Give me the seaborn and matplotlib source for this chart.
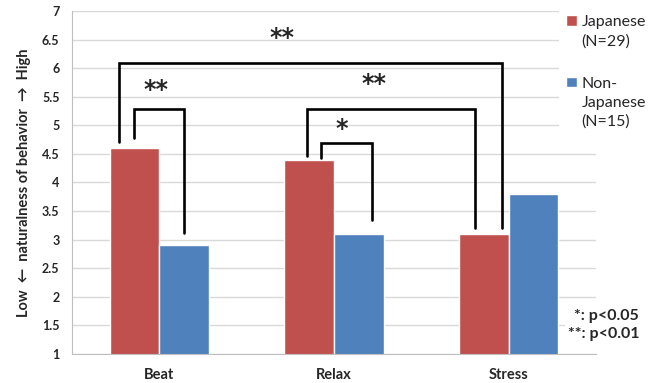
import pandas as pd
import seaborn as sns
import matplotlib.pyplot as plt
from matplotlib.patches import Patch

conditions = ["Beat", "Relax", "Stress"]
japanese = [4.6, 4.4, 3.1]
non_japanese = [2.9, 3.1, 3.8]
group_names = ["Japanese\n(N=29)", "Non-\nJapanese\n(N=15)"]
colors = ["#C0504D", "#4F81BD"]

# significance brackets: (left bar, right bar), bar = (condition, group, spot across bar)
pairs = [
    ((0, 0, 0.5), (0, 1, 0.5)),
    ((0, 0, 0.19), (2, 0, 0.86)),
    ((1, 0, 0.45), (2, 0, 0.32)),
    ((1, 0, 0.74), (1, 1, 0.76)),
]
bracket_tops = [5.29, 6.09, 5.29, 4.69]
leg_gaps = [(0.18, 0.22), (0.11, 0.10), (0.06, 0.10), (0.03, 0.24)]
stars = ["**", "**", "**", "*"]
star_pos = [(-0.02, 5.62), (0.70, 6.52), (1.23, 5.73), (1.045, 4.94)]

df = pd.DataFrame({
    "condition": conditions * 2,
    "group": [group_names[0]] * 3 + [group_names[1]] * 3,
    "score": japanese + non_japanese,
})

sns.set_style("white")
plt.rcParams["font.family"] = ["Lato", "DejaVu Sans"]

fig = plt.figure(figsize=(6.49, 3.83), dpi=100)
ax = fig.add_axes([72 / 649, 1 - 354 / 383, (596 - 72) / 649, (354 - 11) / 383])

sns.barplot(data=df, x="condition", y="score", hue="group", palette=colors,
            width=0.57, ax=ax, legend=False, saturation=1, zorder=2)

ax.set_ylim(1, 7)
ax.set_xlim(-0.5, 2.5)
ax.set_yticks([1 + 0.5 * i for i in range(13)])
ax.set_yticklabels([f"{v:g}" for v in ax.get_yticks()], fontsize=9, fontweight="bold")
ax.set_xticks(range(3))
ax.set_xticklabels(conditions, fontsize=10.5, fontweight="bold")
ax.tick_params(axis="x", length=0, pad=10)
ax.set_xticks([-0.5, 0.5, 1.5, 2.5], minor=True)
ax.tick_params(axis="x", which="minor", length=5, color="#BFBFBF", width=0.8)
ax.tick_params(axis="y", length=5, color="#BFBFBF", width=0.8, pad=4)
ax.grid(axis="y", color="#D9D9D9", lw=1, zorder=0)
ax.set_axisbelow(True)
for side in ["top", "right"]:
    ax.spines[side].set_visible(False)
ax.spines["left"].set_color("#BFBFBF")
ax.spines["bottom"].set_color("#BFBFBF")
ax.set_xlabel("")
ax.set_ylabel("Low  \u2190  naturalness of behavior  \u2192  High",
              fontsize=10.5, fontweight="bold", labelpad=8)

# bars in order: group 0 (3 conditions), then group 1
bars = {}
for k, p in enumerate(ax.patches[:6]):
    bars[(k % 3, k // 3)] = p

for (a, b), top, (ga, gb), s, (sx, sy) in zip(pairs, bracket_tops, leg_gaps, stars, star_pos):
    pa = bars[(a[0], a[1])]
    pb = bars[(b[0], b[1])]
    xa = pa.get_x() + a[2] * pa.get_width()
    xb = pb.get_x() + b[2] * pb.get_width()
    ya = pa.get_height() + ga
    yb = pb.get_height() + gb
    ax.plot([xa, xa, xb, xb], [ya, top, top, yb], color="black", lw=1.9,
            solid_joinstyle="miter", zorder=3)
    ax.text(sx, sy, s, ha="center", va="center", fontsize=17, fontweight="bold",
            family="DejaVu Sans", zorder=3)

handles = [Patch(facecolor=c) for c in colors]
leg = fig.legend(handles, group_names, loc="upper left",
                 bbox_to_anchor=(551 / 649, 1.0), frameon=True, fontsize=11.5,
                 handlelength=0.65, handleheight=0.65, handletextpad=0.3,
                 labelspacing=1.75, borderpad=0.45)
leg.get_frame().set_facecolor("white")
leg.get_frame().set_edgecolor("none")
leg.get_frame().set_alpha(1)
for t in leg.get_texts():
    t.set_linespacing(1.45)
# put each colour square beside the first line of its label
for column in leg._legend_handle_box.get_children():
    for item in column.get_children():
        item.align = "top"

fig.text(639 / 649, 1 - 325 / 383, "*: p<0.05\n**: p<0.01", ha="right", va="center",
         fontsize=11.5, fontweight="bold", linespacing=1.45,
         bbox=dict(facecolor="white", edgecolor="none", pad=2))

fig.savefig("out.png", dpi=100)
